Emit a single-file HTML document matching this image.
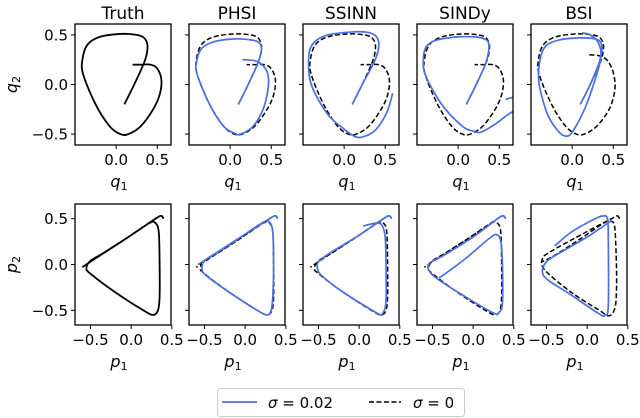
<!DOCTYPE html>
<html><head><meta charset="utf-8"><style>
body{margin:0;background:#fff;}
svg{display:block;font-family:"DejaVu Sans","Liberation Sans",sans-serif;}
</style></head><body>
<svg id="c" width="640" height="418" viewBox="0 0 640 418"></svg>
<script>
const titles=["Truth","PHSI","SSINN","SINDy","BSI"];
const truthQ=[[0.1,-0.2],[0.22,0.0],[0.33,0.2],[0.37,0.3],[0.38,0.4],[0.34,0.47],[0.25,0.5],[0.05,0.51],[-0.2,0.48],[-0.35,0.4],[-0.41,0.25],[-0.4,0.1],[-0.25,-0.2],[-0.08,-0.42],[0.05,-0.5],[0.15,-0.5],[0.3,-0.42],[0.45,-0.25],[0.53,-0.1],[0.55,0.05],[0.5,0.16],[0.42,0.2],[0.3,0.2],[0.2,0.2]];
const phsiQ=[[0.1,-0.2],[0.22,0.0],[0.33,0.2],[0.37,0.3],[0.38,0.38],[0.34,0.43],[0.25,0.45],[0.05,0.46],[-0.2,0.43],[-0.35,0.36],[-0.41,0.22],[-0.4,0.1],[-0.25,-0.2],[-0.08,-0.42],[0.05,-0.49],[0.13,-0.5],[0.28,-0.42],[0.4,-0.25],[0.46,-0.05],[0.46,0.1],[0.4,0.19],[0.3,0.24],[0.15,0.25]];
const ssinnQ=[[0.1,-0.2],[0.22,0.0],[0.35,0.2],[0.41,0.33],[0.42,0.43],[0.37,0.5],[0.25,0.53],[0.1,0.53],[-0.2,0.5],[-0.37,0.42],[-0.43,0.28],[-0.4,0.0],[-0.2,-0.3],[0.0,-0.45],[0.12,-0.52],[0.22,-0.53],[0.38,-0.46],[0.52,-0.28],[0.59,-0.09]];
const sindyQ=[[0.1,-0.2],[0.22,0.0],[0.33,0.2],[0.37,0.33],[0.37,0.42],[0.32,0.46],[0.2,0.48],[0.0,0.48],[-0.25,0.45],[-0.38,0.39],[-0.42,0.28],[-0.4,0.1],[-0.2,-0.2],[0.05,-0.42],[0.18,-0.47],[0.28,-0.48],[0.45,-0.4],[0.65,-0.28],[0.85,-0.22],[0.72,-0.13],[0.58,-0.15]];
const bsiQ=[[0.1,-0.2],[0.22,0.0],[0.32,0.2],[0.36,0.33],[0.35,0.42],[0.28,0.46],[0.1,0.47],[-0.15,0.45],[-0.33,0.38],[-0.4,0.2],[-0.4,0.0],[-0.3,-0.3],[-0.17,-0.47],[-0.08,-0.52],[0.0,-0.48],[0.15,-0.25],[0.28,0.05],[0.35,0.28],[0.32,0.42],[0.22,0.5],[0.12,0.52]];
const truthP=[[0.4,0.5],[0.37,0.53],[0.3,0.5],[0.0,0.32],[-0.35,0.12],[-0.5,0.04],[-0.55,-0.04],[-0.5,-0.1],[-0.2,-0.3],[0.15,-0.5],[0.27,-0.55],[0.33,-0.5],[0.35,-0.35],[0.35,0.0],[0.34,0.35],[0.3,0.45],[0.22,0.45],[-0.1,0.26],[-0.45,0.06],[-0.6,-0.03]];
const phsiP=[[0.4,0.5],[0.37,0.53],[0.3,0.5],[0.0,0.33],[-0.35,0.13],[-0.5,0.04],[-0.53,-0.05],[-0.48,-0.12],[-0.2,-0.3],[0.15,-0.5],[0.27,-0.55],[0.32,-0.5],[0.34,-0.35],[0.35,0.0],[0.34,0.35],[0.3,0.46],[0.22,0.46],[-0.1,0.27],[-0.45,0.07],[-0.58,0.0]];
const ssinnP=[[0.05,0.42],[0.2,0.45],[0.28,0.43],[0.32,0.3],[0.33,0.0],[0.33,-0.4],[0.29,-0.53],[0.22,-0.53],[-0.2,-0.3],[-0.45,-0.13],[-0.51,-0.05],[-0.5,0.03],[-0.35,0.13],[0.0,0.32],[0.3,0.5],[0.37,0.53],[0.4,0.5]];
const sindyP=[[0.4,0.5],[0.37,0.53],[0.3,0.5],[0.0,0.3],[-0.4,0.08],[-0.53,0.02],[-0.55,-0.05],[-0.45,-0.15],[-0.1,-0.35],[0.25,-0.53],[0.32,-0.52],[0.36,-0.42],[0.36,0.0],[0.34,0.25],[0.3,0.32],[0.22,0.3],[-0.1,0.06],[-0.42,-0.15]];
const bsiP=[[-0.4,0.2],[-0.2,0.35],[0.1,0.5],[0.2,0.53],[0.25,0.5],[0.26,0.3],[0.26,-0.45],[0.22,-0.55],[0.15,-0.54],[-0.2,-0.33],[-0.48,-0.17],[-0.55,-0.08],[-0.5,0.03],[-0.35,0.12],[0.0,0.3],[0.3,0.48]];
const bsiPd=[[0.4,0.5],[0.37,0.53],[0.3,0.5],[0.0,0.36],[-0.45,0.14],[-0.55,0.06],[-0.52,-0.06],[-0.2,-0.3],[0.15,-0.5],[0.27,-0.56],[0.34,-0.48],[0.36,-0.3],[0.36,0.0],[0.34,0.4],[0.3,0.47],[0.22,0.46],[-0.1,0.27],[-0.4,0.1],[-0.55,0.03]];
const bsiQd=[[0.1,-0.2],[0.22,0.0],[0.33,0.2],[0.37,0.3],[0.38,0.4],[0.34,0.47],[0.25,0.5],[0.05,0.51],[-0.2,0.48],[-0.35,0.4],[-0.41,0.25],[-0.4,0.1],[-0.25,-0.2],[-0.08,-0.42],[0.05,-0.5],[0.15,-0.5],[0.3,-0.42],[0.45,-0.25],[0.52,-0.05],[0.5,0.12],[0.43,0.24],[0.33,0.29],[0.2,0.3]];
const blueQ=[truthQ,phsiQ,ssinnQ,sindyQ,bsiQ];
const dashQ=[null,truthQ,truthQ,truthQ,bsiQd];
const blueP=[truthP,phsiP,ssinnP,sindyP,bsiP];
const dashP=[null,truthP,truthP,truthP,bsiPd];
const qTicksX=[0.0,0.5],qTicksY=[0.5,0.0,-0.5],pTicksX=[-0.5,0.0,0.5],pTicksY=[0.5,0.0,-0.5];
const NS="http://www.w3.org/2000/svg";
const svg=document.getElementById('c');
function el(t,a,p){const e=document.createElementNS(NS,t);for(const k in a)e.setAttribute(k,a[k]);(p||svg).appendChild(e);return e;}
function fmt(v){return (v<0?"\u2212":"")+Math.abs(v).toFixed(1);}
function pathD(pts,sx,sy){const P=pts.map(p=>[sx(p[0]),sy(p[1])]);let d="M"+P[0][0]+","+P[0][1];
for(let i=0;i<P.length-1;i++){const p0=P[i-1]||P[i],p1=P[i],p2=P[i+1],p3=P[i+2]||P[i+1];
d+=" C"+(p1[0]+(p2[0]-p0[0])/6)+","+(p1[1]+(p2[1]-p0[1])/6)+" "+(p2[0]-(p3[0]-p1[0])/6)+","+(p2[1]-(p3[1]-p1[1])/6)+" "+p2[0]+","+p2[1];}return d;}
const rows=[{top:24,h:121,x0:-0.50,x1:0.667,y0:-0.61,y1:0.61,xt:qTicksX,yt:qTicksY,blue:blueQ,dash:dashQ,xl:"q",yl:"q"},
{top:204,h:121,x0:-0.69,x1:0.49,y0:-0.66,y1:0.66,xt:pTicksX,yt:pTicksY,blue:blueP,dash:dashP,xl:"p",yl:"p"}];
rows.forEach((r,ri)=>{
 for(let c=0;c<5;c++){
  const L=75+c*114,W=96,T=r.top,H=r.h;
  const sx=v=>L+(v-r.x0)/(r.x1-r.x0)*W, sy=v=>T+H-(v-r.y0)/(r.y1-r.y0)*H;
  const g=el('g',{});
  
  
  const cid='clip'+ri+c;
  const cp=el('clipPath',{id:cid},g);el('rect',{x:L,y:T,width:W,height:H},cp);
  const lg=el('g',{'clip-path':'url(#'+cid+')'},g);
  if(c===0){const p=el('path',{d:pathD(r.blue[0],sx,sy),fill:'none',stroke:'#000','stroke-width':1.8},lg);
   }
  else{
   const d=el('path',{d:pathD(r.dash[c],sx,sy),fill:'none',stroke:'#000','stroke-width':1.5,'stroke-dasharray':'5,2.5'},lg);
   
   const b=el('path',{d:pathD(r.blue[c],sx,sy),fill:'none',stroke:'#4a6fe3','stroke-width':1.7},lg);
   }
  el('rect',{x:L,y:T,width:W,height:H,fill:'none',stroke:'#000','stroke-width':1.3},g);
  r.xt.forEach(v=>{el('line',{x1:sx(v),x2:sx(v),y1:T+H,y2:T+H+4,stroke:'#000'},g);
   const t=el('text',{x:sx(v),y:T+H+20,'font-size':15,'text-anchor':'middle'},g);t.textContent=fmt(v);
   });
  r.yt.forEach(v=>{el('line',{x1:L-4,x2:L,y1:sy(v),y2:sy(v),stroke:'#000'},g);
   if(c===0){const t=el('text',{x:L-7,y:sy(v)+5.5,'font-size':15,'text-anchor':'end'},g);t.textContent=fmt(v);
   }});
  const xl=el('text',{x:L+W/2-4,y:T+H+42,'font-size':16,'font-style':'italic','text-anchor':'middle'},g);
  xl.innerHTML=r.xl+'<tspan font-size="11" font-style="normal" dy="3">1</tspan>';
  
  if(ri===0){const t=el('text',{x:L+W/2,y:19,'font-size':17,'text-anchor':'middle'},g);t.textContent=titles[c];
   }
  if(c===0){const cy=T+H/2;const yl=el('text',{x:0,y:0,'font-size':16,'font-style':'italic','text-anchor':'middle',transform:'translate(17,'+cy+') rotate(-90)'},g);
   yl.innerHTML=r.yl+'<tspan font-size="11" font-style="normal" dy="3">2</tspan>';
   }
 }
});
const lg=el('g',{});


el('rect',{x:217.5,y:388.5,width:247,height:28,rx:3,fill:'#fff',stroke:'#ccc'},lg);
el('line',{x1:222,x2:257,y1:402,y2:402,stroke:'#4a6fe3','stroke-width':1.7},lg);
el('line',{x1:369,x2:401,y1:402,y2:402,stroke:'#000','stroke-width':1.5,'stroke-dasharray':'5,2.5'},lg);
const t1=el('text',{x:268,y:408,'font-size':15},lg);t1.innerHTML='<tspan font-style="italic">σ</tspan> = 0.02';

const t2=el('text',{x:413,y:408,'font-size':15},lg);t2.innerHTML='<tspan font-style="italic">σ</tspan> = 0';

</script>
</body></html>
